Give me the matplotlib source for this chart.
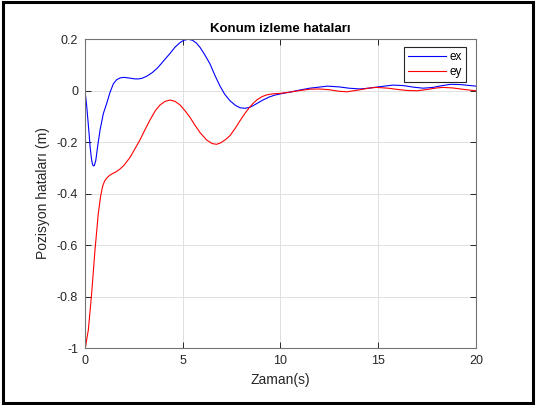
import matplotlib
matplotlib.use("Agg")
import matplotlib.pyplot as plt
from matplotlib.patches import Rectangle

plt.rcParams['font.family'] = ['Liberation Sans', 'DejaVu Sans']

# zaman ekseni ve hata degerleri
t_ex = [0, 0.09, 0.2, 0.26, 0.33, 0.38, 0.43, 0.48, 0.55, 0.65, 0.77, 0.94,
        1.11, 1.28, 1.45, 1.62, 1.8, 2.0, 2.3, 2.55, 2.73, 2.9, 3.15, 3.45, 3.7,
        3.84, 4.1, 4.35, 4.6, 4.86, 5.05, 5.29, 5.5, 5.7, 5.88, 6.1, 6.39, 6.65,
        6.9, 7.15, 7.42, 7.7, 7.93, 8.18, 8.4, 8.6, 8.8, 9.1, 9.4, 9.7, 10.0,
        10.5, 11.0, 11.5, 11.85, 12.4, 13.0, 13.5, 14.07, 14.5, 15.0, 15.75,
        16.3, 16.8, 17.3, 17.8, 18.2, 18.7, 19.2, 19.6, 20.0]
ex = [0, -0.063, -0.16, -0.218, -0.265, -0.286, -0.293, -0.291, -0.272, -0.215,
      -0.153, -0.089, -0.05, -0.007, 0.026, 0.042, 0.049, 0.051, 0.048, 0.045,
      0.045, 0.047, 0.055, 0.07, 0.087, 0.099, 0.122, 0.144, 0.168, 0.186,
      0.195, 0.199, 0.195, 0.184, 0.168, 0.142, 0.104, 0.058, 0.018, -0.015,
      -0.04, -0.058, -0.067, -0.069, -0.066, -0.059, -0.05, -0.037, -0.026,
      -0.018, -0.013, -0.006, 0.002, 0.009, 0.012, 0.017, 0.014, 0.009, 0.006,
      0.009, 0.014, 0.021, 0.019, 0.013, 0.009, 0.012, 0.018, 0.024, 0.023,
      0.02, 0.017]

t_ey = [0, 0.03, 0.08, 0.17, 0.34, 0.51, 0.68, 0.8, 0.9, 1.0, 1.11, 1.25, 1.4,
        1.6, 1.79, 2.0, 2.3, 2.55, 2.81, 3.05, 3.32, 3.6, 3.84, 4.1, 4.35, 4.6,
        4.86, 5.1, 5.37, 5.6, 5.9, 6.22, 6.5, 6.73, 6.95, 7.2, 7.42, 7.7, 7.95,
        8.2, 8.4, 8.6, 8.8, 9.05, 9.29, 9.6, 10.0, 10.5, 11.0, 11.5, 12.0, 12.5,
        13.0, 13.4, 14.0, 14.5, 14.9, 15.5, 16.0, 16.5, 17.0, 17.5, 18.0, 18.3,
        18.8, 19.4, 20.0]
ey = [-1.0, -0.995, -0.97, -0.93, -0.788, -0.62, -0.477, -0.41, -0.372, -0.352,
      -0.34, -0.33, -0.323, -0.315, -0.305, -0.29, -0.26, -0.227, -0.192,
      -0.155, -0.115, -0.078, -0.056, -0.042, -0.037, -0.042, -0.056, -0.077,
      -0.104, -0.132, -0.165, -0.192, -0.206, -0.209, -0.203, -0.19, -0.175,
      -0.145, -0.115, -0.087, -0.067, -0.05, -0.036, -0.024, -0.017, -0.013,
      -0.011, -0.006, 0.0, 0.005, 0.006, 0.003, -0.003, -0.005, 0.002, 0.009,
      0.012, 0.009, 0.004, 0.0, -0.001, 0.004, 0.01, 0.012, 0.01, 0.004, -0.001]

xticks = [0, 5, 10, 15, 20]
yticks = [-1, -0.8, -0.6, -0.4, -0.2, 0, 0.2]
ytick_labels = ['-1', '-0.8', '-0.6', '-0.4', '-0.2', '0', '0.2']

fig = plt.figure(figsize=(5.36, 4.05), dpi=100)
ax = fig.add_axes([0.1586, 0.1407, 0.7294, 0.763])

ax.plot(t_ex, ex, color=(0, 0, 1), lw=0.8, label='ex')
ax.plot(t_ey, ey, color=(1, 0, 0), lw=0.8, label='ey')

ax.set_xlim(0, 20)
ax.set_ylim(-1, 0.2)
ax.set_xticks(xticks)
ax.set_xticklabels([str(v) for v in xticks])
ax.set_yticks(yticks)
ax.set_yticklabels(ytick_labels)
ax.grid(True, color=(0.88, 0.88, 0.88), lw=0.7)
ax.set_axisbelow(True)
ax.tick_params(direction='in', length=4, width=0.7, top=True, right=True,
               labelsize=9, colors=(0.15, 0.15, 0.15), pad=5)
for s in ax.spines.values():
    s.set_color((0.45, 0.45, 0.45))
    s.set_linewidth(0.8)

ax.set_title('Konum izleme hataları', fontsize=9.5, fontweight='bold', pad=5)
ax.set_xlabel('Zaman(s)', fontsize=10, color=(0.15, 0.15, 0.15), labelpad=4)
ax.set_ylabel('Pozisyon hataları (m)', fontsize=10, color=(0.15, 0.15, 0.15), labelpad=5)

leg = ax.legend(loc='upper right', bbox_to_anchor=(0.975, 0.975), fontsize=8.5,
                fancybox=False, framealpha=1, edgecolor=(0.15, 0.15, 0.15),
                handlelength=3.2, handletextpad=0.3, borderpad=0.35,
                labelspacing=0.25, borderaxespad=0)
leg.get_frame().set_linewidth(0.8)

# figure cercevesi
fig.patches.append(Rectangle((0.005, 0.006), 0.99, 0.988, transform=fig.transFigure,
                             fill=False, edgecolor='black', lw=2.2))

fig.savefig('out.png', dpi=100)
